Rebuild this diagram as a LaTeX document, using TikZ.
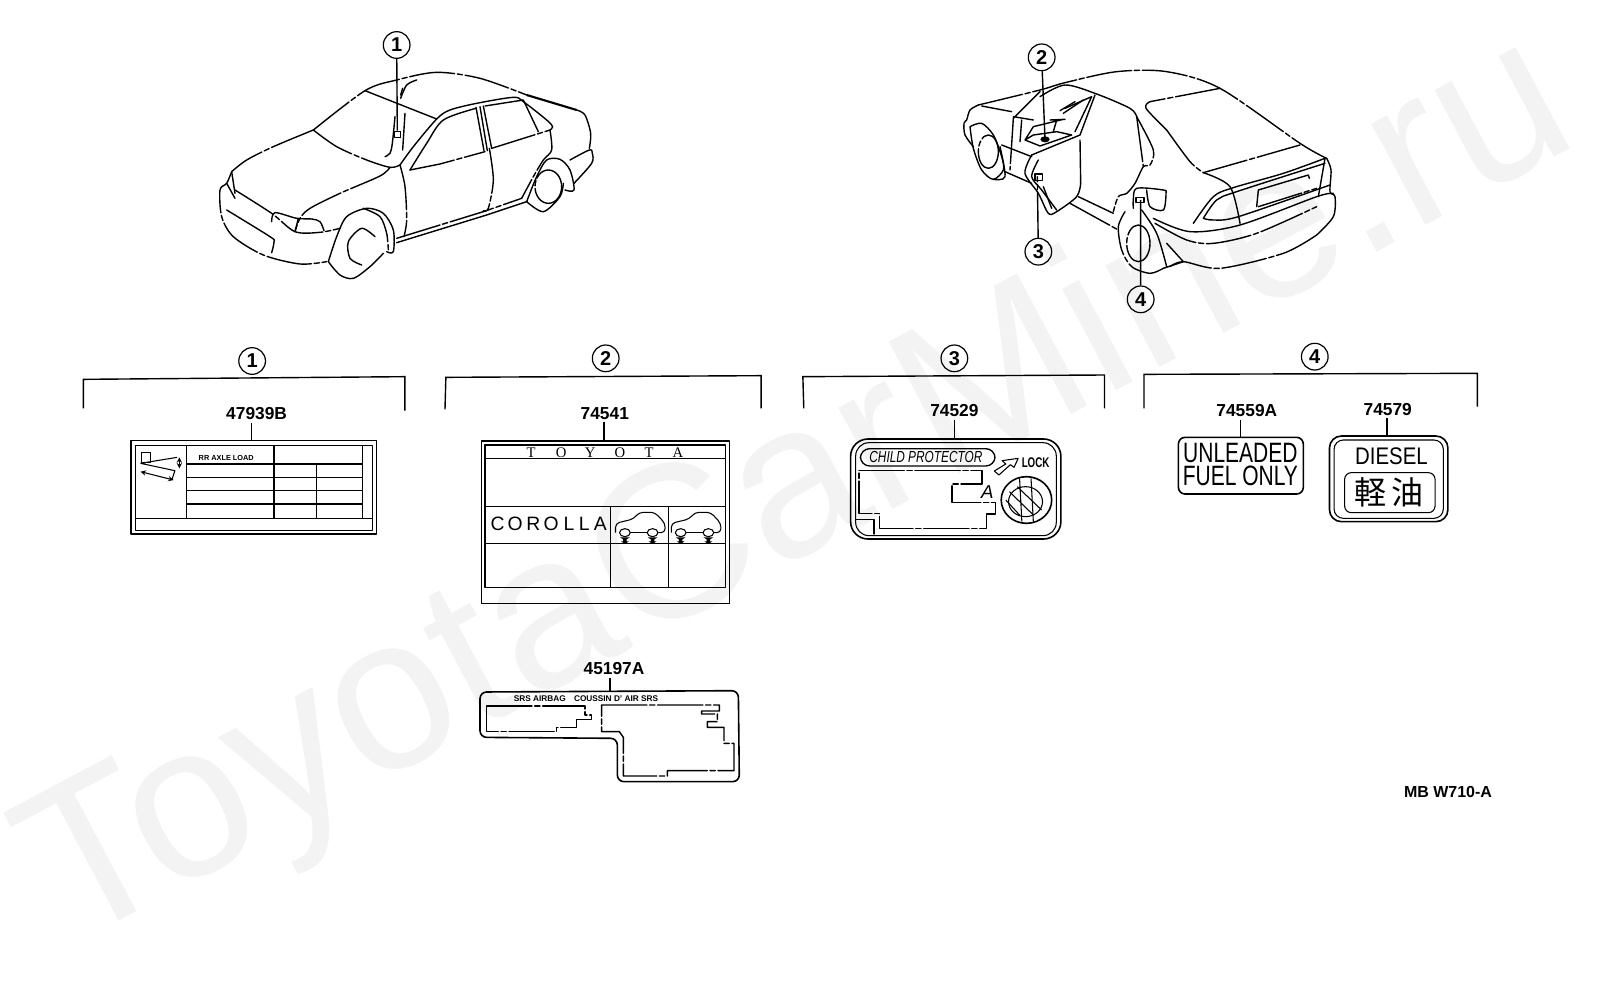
\documentclass[tikz,border=0pt]{standalone}
\usepackage{fontspec}
\setmainfont{Liberation Sans}
\newfontfamily\serifcap{Liberation Serif}
\newfontfamily\cjk{Noto Sans CJK JP}
\definecolor{wmark}{HTML}{F3F3F3}
\tikzset{
  carline/.style={line width=1.05pt,line join=round,line cap=round},
  brkline/.style={carline,dash pattern=on 34pt off 2pt on 4pt off 2pt},
  bracketline/.style={line width=1.05pt},
  labelline/.style={line width=1.2pt,line join=round},
  thinline/.style={line width=0.8pt,line join=round},
  callout/.style={circle,draw,line width=0.9pt,inner sep=0pt,minimum size=20pt,font=\fontsize{15}{15}\selectfont\bfseries},
  partno/.style={inner sep=0pt,font=\fontsize{13}{13}\selectfont\bfseries},
  gridtext/.style={inner sep=0pt,font=\fontsize{14.5}{14.5}\selectfont},
  smooth50/.style={smooth,tension=0.5}
}
\begin{document}
\begin{tikzpicture}[x=0.75pt,y=0.75pt,yscale=-1,xscale=1]
	\useasboundingbox (0,0) rectangle (1608,1006);

	% Watermark
	\node (wmark) [rotate=28,inner sep=0pt,text=wmark,font=\fontsize{163}{163}\selectfont] at (800,495) {ToyotaCarMine.ru};

	%Front car
	\begin{scope}[shift={(180,20)},xscale=1/3,yscale=1/3]
		% roof and deck
		\draw[brkline] plot[smooth50] coordinates {(400,330) (555,212) (650,180) (770,157) (900,175) (1040,225)};
		\draw[line width=1.6pt] (1040,225) -- (1190,270);
		\draw[brkline] plot[smooth50] coordinates {(1190,270) (1215,285) (1232,340) (1228,385)};
		% hood
		\draw[brkline] plot[smooth50] coordinates {(400,330) (280,380) (200,420) (155,455)};
		\draw[brkline] plot[smooth50] coordinates {(400,330) (470,380) (560,420) (630,442) (660,435)};
		\draw[carline] (555,212) -- (770,297);
		\draw[carline] plot[smooth50] coordinates {(660,435) (700,380) (770,297) (810,270) (890,250) (1000,232) (1030,245) (1100,300) (1118,320) (1110,330)};
		% side windows
		\draw[carline] plot[smooth50] coordinates {(690,450) (740,370) (790,300) (888,265)};
		\draw[brkline] (690,450) -- (780,432) -- (915,395);
		\draw[carline] (888,262) -- (912,392) (900,260) -- (922,392);
		\draw[brkline] (910,258) -- (935,385);
		\draw[carline] (915,258) -- (1030,240) -- (1075,335);
		\draw[brkline] (935,385) -- (1110,330);
		% fender line
		\draw[brkline] plot[smooth50] coordinates {(630,442) (600,468) (480,520) (390,565) (360,595) (345,635)};
		\draw[brkline] plot[smooth50] coordinates {(660,435) (675,500) (680,600) (672,650)};
		\draw[brkline] plot[smooth50] coordinates {(928,385) (940,480) (925,565) (910,572)};
		\draw[brkline] plot[smooth50] coordinates {(1110,330) (1115,390) (1090,420) (1060,470) (1025,535)};
		% sill
		\draw[brkline] (650,655) -- (910,575) -- (1025,535);
		\draw[carline] (650,668) -- (920,585) -- (1040,545);
		% rear wheel
		\draw[carline] plot[smooth50] coordinates {(1040,545) (1070,470) (1100,420) (1140,418) (1170,450) (1182,510) (1155,510)};
		\draw[carline] plot[smooth50] coordinates {(1170,420) (1228,390) (1237,400) (1235,430) (1182,490)};
		\draw[carline] plot[smooth50] coordinates {(1040,545) (1090,575) (1140,530) (1150,490)};
		\draw[brkline] (1105,500) ellipse [x radius=40,y radius=50];
		% front wheel
		\draw[carline] plot[smooth50] coordinates {(445,725) (470,650) (500,590) (560,565) (610,580) (640,630) (640,695) (620,695)};
		\draw[brkline] plot[smooth50] coordinates {(550,565) (600,590) (620,640) (625,690)};
		\draw[carline] plot[smooth50] coordinates {(445,725) (480,765) (520,775) (570,740) (610,700)};
		\draw[carline] plot[smooth50] coordinates {(585,650) (545,625) (505,665) (510,715) (545,735)};
		% nose
		\draw[brkline] plot[smooth50] coordinates {(155,455) (140,490) (120,510) (125,590) (160,650) (250,705) (360,732) (440,725)};
		\draw[carline] plot[smooth50] coordinates {(140,570) (270,650) (282,665) (275,698)};
		\draw[carline] (155,455) -- (165,520) (140,490) -- (165,535);
		\draw[brkline] plot[smooth50] coordinates {(165,510) (275,580) (345,635) (420,637) (480,625)};
		\draw[carline] plot[smooth50] coordinates {(275,605) (285,578) (350,595) (395,597) (420,605) (432,632)};
		\draw[carline] (345,635) -- (355,595);
		% pillar
		\draw[carline] plot[smooth50] coordinates {(645,290) (637,370) (630,400) (615,410)};
		\draw[brkline] (675,280) -- (668,390);
		\draw[carline] plot[smooth50] coordinates {(662,235) (680,195) (710,180)};
		\draw[carline] (668,205) -- (662,225);
		% tag
		\node (tag1) [draw,line width=1.2pt,inner sep=0pt,minimum size=4.5pt] at (652,343) {};
		\node (call1) [callout] at (650,75) {1};
		\draw[bracketline] (call1) -- (tag1);
	\end{scope}

	%Rear car
	\begin{scope}[shift={(950,20)},xscale=1/3,yscale=1/3]
		% roof
		\draw[brkline] plot[smooth50] coordinates {(85,255) (270,210) (345,188) (500,155) (650,155) (810,205) (1050,370) (1130,415)};
		\draw[carline] plot[smooth50] coordinates {(1130,415) (1143,450) (1140,515) (1155,530) (1150,590) (1100,645)};
		\draw[brkline] plot[smooth50] coordinates {(1100,645) (1000,700) (810,745) (700,725) (660,740)};
		% front of car
		\draw[carline] plot[smooth50] coordinates {(85,255) (60,270) (50,300) (42,310) (45,345) (70,380)};
		\draw[carline] (95,258) -- (185,275);
		\draw[carline] plot[smooth50] coordinates {(60,320) (95,310) (130,345) (155,410) (160,450) (130,478) (95,450) (70,385) (60,320)};
		\draw[brkline] (115,395) ellipse [x radius=30,y radius=50];
		\draw[carline] plot[smooth50] coordinates {(150,380) (165,470) (130,478)};
		\draw[carline] (155,375) -- (245,410);
		\draw[carline] (165,455) -- (245,490);
		% door opening
		\draw[brkline] (190,295) -- (180,450);
		\draw[carline] (190,295) -- (270,215) (190,290) -- (250,300);
		\draw[carline] (215,300) -- (210,365);
		\draw[carline] plot[smooth50] coordinates {(270,230) (345,195) (440,222) (540,265) (560,290)};
		\draw[brkline] plot[smooth50] coordinates {(560,290) (610,390) (600,435) (580,440) (555,490) (530,520) (505,530) (490,575)};
		\draw[brkline] (560,290) -- (580,440);
		\draw[carline] (385,530) -- (490,580);
		\draw[brkline] (360,550) -- (505,630);
		% seat
		\draw[carline] (225,360) -- (250,320) -- (340,298) (300,300) -- (345,298) (225,360) -- (270,378) -- (365,345) -- (320,335) -- (250,345) -- (225,360);
		\draw[carline] (310,335) -- (320,300);
		\draw[carline] (330,272) -- (375,245) (340,280) -- (400,240);
		% open door
		\draw[carline] plot[smooth50] coordinates {(245,405) (225,460) (265,520) (295,580) (320,575) (380,530) (392,490)};
		\draw[brkline] (392,490) -- (390,360);
		\draw[carline] plot[smooth50] coordinates {(265,420) (245,470) (275,510) (320,570)};
		\draw[carline] (245,405) -- (390,345) -- (435,225) (375,335) -- (425,230) -- (345,265);
		\draw[carline] (280,500) -- (305,565);
		% rear window
		\draw[brkline] (810,205) -- (600,245);
		\draw[carline] plot[smooth50] coordinates {(600,245) (588,265) (650,330)};
		\draw[brkline] plot[smooth50] coordinates {(650,330) (720,425) (760,458)};
		\draw[brkline] (760,458) -- (1050,375);
		% trunk and lights
		\draw[carline] plot[smooth50] coordinates {(760,458) (840,500) (870,610)};
		\draw[carline] plot[smooth50] coordinates {(730,610) (790,530) (850,503) (1000,460) (1125,415)};
		\draw[carline] plot[smooth50] coordinates {(760,595) (800,540) (860,515) (1125,430)};
		\draw[carline] plot[smooth50] coordinates {(760,595) (790,600) (865,590) (1140,495)};
		\draw[carline] (920,560) -- (925,510) -- (1075,465) -- (1078,475);
		\draw[brkline] (925,560) -- (1100,505);
		\draw[carline] (1125,415) -- (1105,530);
		% bumper
		\draw[carline] plot[smooth50] coordinates {(610,595) (720,635) (870,615) (1100,530) (1150,520)};
		\draw[brkline] plot[smooth50] coordinates {(615,610) (710,660) (790,670) (920,640) (1100,560)};
		% rear wheel
		\draw[brkline] plot[smooth50] coordinates {(525,575) (505,620) (515,690) (545,740) (600,760) (640,745)};
		\draw[brkline] (565,670) ellipse [x radius=35,y radius=55];
		\draw[carline] plot[smooth50] coordinates {(575,570) (620,640) (650,740)};
		\draw[carline] (650,670) -- (700,725) (640,745) -- (700,725);
		% fuel lid
		\draw[carline] plot[smooth50] coordinates {(550,565) (550,540) (560,505) (640,510) (648,520) (640,570) (600,560) (590,510)};
		% tags
		\coordinate (tag2) at (285,358);
		\fill (tag2) ellipse [x radius=14,y radius=9];
		\coordinate (tag3) at (262,470);
		\draw[thinline] (255,462) rectangle (278,482);
		\coordinate (tag4) at (572,540);
		\draw[labelline] (558,532) rectangle (582,548);
		\node (call2) [callout] at (275,112) {2};
		\node (call3) [callout] at (265,695) {3};
		\node (call4) [callout] at (572,838) {4};
		\draw[bracketline] (call2) -- (tag2);
		\draw[brkline] (call3) -- (tag3);
		\draw[bracketline] (call4) -- (tag4);
	\end{scope}

	%Left part: labels 1 and 2
	\begin{scope}[shift={(70,340)},xscale=1/2.24,yscale=1/3]
		%Straight Lines
		\draw[bracketline] (30,205) -- (30,118) -- (750,110) -- (750,212);
		\draw[bracketline] (840,208) -- (842,112) -- (1548,107) -- (1548,205);
		\node (head1) [callout] at (408,63) {1};
		\node (head2) [callout] at (1200,55) {2};
		% Text Node
		\node (pn47939) [partno] at (418,222) {47939B};
		\node (pn74541) [partno] at (1198,220) {74541};
		\coordinate (top47939) at (407,302);
		\coordinate (top74541) at (1196,303);
		\draw[bracketline] (pn47939.south -| top47939) ++(0,8) -- (top47939);
		\draw[bracketline] (pn74541.south -| top74541) ++(0,8) -- (top74541);

		%Shape: Rectangle
		\draw[labelline] (137,302) rectangle (687,582);
		\draw[thinline] (147,316) rectangle (678,572);
		\draw[labelline] (148,535) -- (678,535);
		\draw[thinline] (262,316) -- (262,535) (457,316) -- (457,535) (553,372) -- (553,535) (655,316) -- (655,535);
		\foreach \yy in {372,412,452,492}
			\draw[labelline] (262,\yy) -- (655,\yy);
		\node (rrload) [inner sep=0pt,font=\fontsize{5.5}{5.5}\selectfont\bfseries] at (350,353) {RR AXLE LOAD};
		\draw[thinline] (160,338) rectangle (180,368);
		\draw[thinline] (158,370) -- (240,352) (158,370) -- (235,392) -- (228,420);
		\draw[thinline,<->,>=stealth] (158,395) -- (232,420);
		\draw[thinline,<->,>=stealth] (245,352) -- (245,385);

		%Shape: Rectangle
		\draw[labelline] (922,303) rectangle (1477,790);
		\draw[labelline] (930,315) rectangle (1468,742);
		\draw[thinline] (930,355) -- (1468,355);
		\draw[thinline] (930,500) -- (1468,500);
		\draw[labelline] (930,610) -- (1468,610);
		\draw[thinline] (1210,500) -- (1210,742) (1340,500) -- (1340,742);
		\foreach \ltr/\xx in {T/1033,O/1100,Y/1165,O/1232,T/1297,A/1362}
			\node (ty\xx) [inner sep=0pt,font=\fontsize{11}{11}\serifcap] at (\xx,337) {\ltr};
		\foreach \ltr/\xx in {C/958,O/997,R/1038,O/1078,L/1118,L/1152,A/1188}
			\node (co\xx) [gridtext] at (\xx,553) {\ltr};
		% small cars
		\foreach \dx in {0,125} {
			\begin{scope}[shift={(\dx,0)}]
				\draw[thinline,rounded corners=3pt] (1222,578) -- (1222,550) -- (1262,537) -- (1275,517) -- (1310,517) -- (1333,550) -- (1333,578) -- (1318,578);
				\draw[thinline] (1255,578) -- (1292,578);
				\foreach \wx in {1243,1305} {
					\draw[thinline] (\wx,578) ellipse [x radius=12,y radius=12];
					\fill (\wx-11,592) -- (\wx+11,592) -- (\wx+4,598) -- (\wx+4,604) -- (\wx+9,604) -- (\wx,612) -- (\wx-9,604) -- (\wx-4,604) -- (\wx-4,598) -- cycle;
				}
			\end{scope}
		}
	\end{scope}

	%Right part: labels 3 and 4
	\begin{scope}[shift={(790,340)},xscale=1/2.178,yscale=1/3]
		%Straight Lines
		\draw[bracketline] (30,205) -- (28,110) -- (685,105) -- (685,205);
		\draw[bracketline] (771,205) -- (771,103) -- (1497,100) -- (1497,200);
		\node (head3) [callout] at (358,55) {3};
		\node (head4) [callout] at (1143,50) {4};
		% Text Node
		\node (pn74529) [partno] at (358,212) {74529};
		\node (pn74559) [partno] at (995,212) {74559A};
		\node (pn74579) [partno] at (1302,208) {74579};
		\coordinate (top74529) at (358,297);
		\coordinate (top74559) at (981,292);
		\coordinate (top74579) at (1300,288);
		\draw[bracketline] (pn74529.south -| top74529) ++(0,8) -- (top74529);
		\draw[bracketline] (pn74559.south -| top74559) ++(0,8) -- (top74559);
		\draw[bracketline] (pn74579.south -| top74579) ++(0,8) -- (top74579);

		%Rounded Rect
		\draw[labelline,rounded corners=13pt] (132,297) rectangle (590,597);
		\draw[thinline,rounded corners=10pt] (143,308) rectangle (580,587);
		\node (pill) [draw,line width=1pt,rounded corners=7pt,minimum width=101pt,minimum height=13pt,inner sep=0pt] at (300,352) {};
		\node (child) [xscale=0.74,inner sep=0pt,font=\fontsize{12}{12}\selectfont\itshape] at (296,352) {CHILD PROTECTOR};
		\node (lockw) [xscale=0.7,inner sep=0pt,font=\fontsize{10.5}{10.5}\selectfont\bfseries] at (535,368) {LOCK};
		\node (letterA) [inner sep=0pt,font=\fontsize{14}{14}\selectfont\itshape] at (430,455) {A};
		\draw[thinline] (445,393) -- (470,372) -- (462,362) -- (497,355) -- (488,382) -- (480,374) -- (455,405) -- cycle;
		\draw[brkline,line width=1pt] (150,392) -- (418,392) -- (418,432) -- (353,432) -- (353,487) -- (447,487) -- (447,522) -- (428,522) -- (428,565) -- (195,565) -- (195,520) -- (150,520) -- cycle;
		\draw[carline] (145,538) -- (183,538) -- (183,582);
		\draw[labelline] (515,480) ellipse [x radius=55,y radius=70];
		\draw[thinline] (513,485) ellipse [x radius=37,y radius=45];
		\draw[thinline] (478,455) -- (530,525) (495,440) -- (548,510) (470,480) -- (500,525) (500,415) -- (505,545) (525,415) -- (530,545);

		%Rounded Rect
		\draw[labelline,rounded corners=5pt] (846,292) rectangle (1118,462);
		\node (unl) [xscale=0.75,inner sep=0pt,font=\fontsize{21}{21}\selectfont] at (981,340) {UNLEADED};
		\node (fuel) [xscale=0.75,inner sep=0pt,font=\fontsize{21}{21}\selectfont] at (981,408) {FUEL ONLY};

		%Rounded Rect
		\draw[labelline,rounded corners=9pt] (1175,288) rectangle (1433,545);
		\draw[thinline,rounded corners=7pt] (1185,300) rectangle (1423,535);
		\node (dsl) [xscale=0.85,inner sep=0pt,font=\fontsize{18}{18}\selectfont] at (1310,350) {DIESEL};
		\draw[thinline,rounded corners=5pt] (1208,398) rectangle (1405,518);
		\node (keiyu) [inner sep=0pt,font=\fontsize{24}{24}\cjk] at (1305,458) {軽\,油};
	\end{scope}

	%Airbag label
	\begin{scope}[shift={(460,650)},xscale=1/3,yscale=1/3]
		\node (pn45197) [partno] at (462,57) {45197A};
		\coordinate (top45197) at (450,124);
		\draw[bracketline] (pn45197.south -| top45197) ++(0,8) -- (top45197);
		\draw[labelline,rounded corners=5pt] (60,126) -- (835,122) -- (838,395) -- (472,395) -- (472,265) -- (60,262) -- cycle;
		\node (srs) [inner sep=0pt,font=\fontsize{6.2}{6.2}\selectfont\bfseries] at (378,146) {SRS AIRBAG\quad COUSSIN D' AIR SRS};
		\draw[brkline] (80,168) -- (375,168) -- (375,195) -- (395,195) -- (395,208) -- (350,208) -- (350,232) -- (290,232) -- (290,245) -- (80,245) -- cycle;
		\draw[brkline] (425,165) -- (778,165) -- (778,183) -- (725,183) -- (725,192) -- (772,192) -- (772,215) -- (742,215) -- (742,232) -- (792,232) -- (792,280) -- (822,280) -- (822,362) -- (622,362) -- (622,378) -- (490,378) -- (490,262) -- (478,245) -- (425,245) -- cycle;
	\end{scope}

	% Text Node
	\node (mbcode) [inner sep=0pt,font=\fontsize{12}{12}\selectfont\bfseries] at (1448,792) {MB W710-A};
\end{tikzpicture}
\end{document}
